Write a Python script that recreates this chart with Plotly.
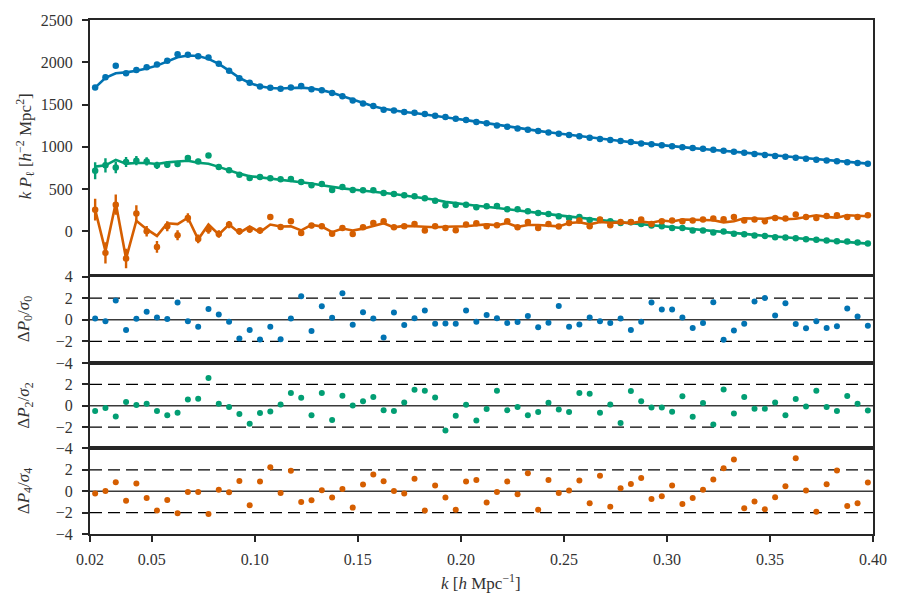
import plotly.graph_objects as go

# ---------------- data ----------------
k = [0.0225, 0.0275, 0.0325, 0.0375, 0.0425, 0.0475, 0.0525, 0.0575, 0.0625, 0.0675,
     0.0725, 0.0775, 0.0825, 0.0875, 0.0925, 0.0975, 0.1025, 0.1075, 0.1125, 0.1175,
     0.1225, 0.1275, 0.1325, 0.1375, 0.1425, 0.1475, 0.1525, 0.1575, 0.1625, 0.1675,
     0.1725, 0.1775, 0.1825, 0.1875, 0.1925, 0.1975, 0.2025, 0.2075, 0.2125, 0.2175,
     0.2225, 0.2275, 0.2325, 0.2375, 0.2425, 0.2475, 0.2525, 0.2575, 0.2625, 0.2675,
     0.2725, 0.2775, 0.2825, 0.2875, 0.2925, 0.2975, 0.3025, 0.3075, 0.3125, 0.3175,
     0.3225, 0.3275, 0.3325, 0.3375, 0.3425, 0.3475, 0.3525, 0.3575, 0.3625, 0.3675,
     0.3725, 0.3775, 0.3825, 0.3875, 0.3925, 0.3975]

# k*P0 measurements
kP0 = [1702, 1824, 1958, 1871, 1907, 1942, 1974, 2017, 2096, 2088,
       2072, 2057, 1982, 1899, 1812, 1757, 1714, 1698, 1686, 1702,
       1718, 1682, 1670, 1635, 1599, 1548, 1513, 1481, 1438, 1430,
       1410, 1403, 1387, 1367, 1351, 1332, 1316, 1292, 1277, 1253,
       1237, 1217, 1202, 1186, 1170, 1155, 1139, 1123, 1108, 1091,
       1079, 1067, 1056, 1040, 1030, 1018, 1006, 995, 985, 975,
       966, 953, 940, 928, 915, 902, 892, 881, 870, 858,
       847, 838, 828, 818, 809, 800]
kP0_err = [30, 28, 26, 25, 24, 23, 22, 21, 20, 19,
           18, 17, 17, 16, 16, 15, 15, 14, 14, 14,
           13, 13, 13, 12, 12, 12, 11, 11, 11, 11,
           10, 10, 10, 10, 10, 9, 9, 9, 9, 9,
           9, 8, 8, 8, 8, 8, 8, 8, 8, 7,
           7, 7, 7, 7, 7, 7, 7, 7, 7, 6,
           6, 6, 6, 6, 6, 6, 6, 6, 6, 6,
           6, 6, 6, 6, 6, 6]
kP0_model = [1700, 1815, 1870, 1880, 1900, 1925, 1960, 2010, 2060, 2080,
             2075, 2040, 1980, 1900, 1815, 1755, 1715, 1695, 1690, 1695,
             1700, 1690, 1670, 1640, 1600, 1555, 1515, 1480, 1450, 1430,
             1412, 1400, 1385, 1368, 1350, 1332, 1315, 1296, 1278, 1258,
             1240, 1222, 1205, 1188, 1172, 1156, 1140, 1125, 1110, 1095,
             1081, 1068, 1055, 1042, 1030, 1018, 1006, 995, 984, 974,
             963, 952, 940, 928, 916, 904, 893, 882, 871, 860,
             849, 839, 829, 819, 809, 800]

# k*P2 measurements
kP2 = [717, 780, 756, 819, 835, 827, 780, 788, 796, 866,
       827, 898, 760, 721, 670, 630, 642, 626, 615, 618,
       583, 544, 559, 488, 524, 488, 485, 485, 453, 441,
       426, 414, 390, 362, 307, 315, 315, 284, 296, 300,
       260, 260, 236, 217, 205, 177, 158, 169, 134, 134,
       118, 98, 106, 87, 67, 59, 39, 39, 8, 8,
       -16, -4, -28, -35, -51, -55, -71, -75, -83, -95,
       -99, -110, -118, -122, -134, -146]
kP2_err = [100, 85, 70, 59, 55, 48, 42, 38, 35, 32,
           30, 28, 27, 26, 25, 24, 23, 22, 21, 20,
           19, 19, 18, 18, 17, 17, 16, 16, 15, 15,
           15, 14, 14, 14, 13, 13, 13, 12, 12, 12,
           12, 11, 11, 11, 11, 10, 10, 10, 10, 10,
           10, 9, 9, 9, 9, 9, 9, 9, 8, 8,
           8, 8, 8, 8, 8, 8, 8, 8, 7, 7,
           7, 7, 7, 7, 7, 7]
kP2_model = [765, 780, 845, 800, 808, 808, 796, 815, 825, 835,
             810, 798, 762, 722, 682, 652, 638, 625, 612, 600,
             585, 565, 545, 525, 508, 494, 482, 468, 454, 440,
             424, 408, 390, 372, 348, 330, 316, 302, 290, 277,
             263, 248, 233, 218, 203, 188, 173, 158, 144, 131,
             118, 106, 94, 82, 70, 58, 46, 35, 23, 12,
             1, -10, -21, -32, -43, -53, -63, -73, -83, -92,
             -101, -110, -119, -128, -137, -146]

# k*P4 measurements
kP4 = [256, -256, 315, -323, 209, 0, -185, 59, -47, 158,
       -91, 20, -32, 79, 0, 20, 8, 169, 51, 118,
       -20, 67, 59, -28, 39, -32, 47, 98, 118, 47,
       59, 87, 8, 59, 39, 12, 79, 95, 59, 71,
       118, 47, 110, 39, 87, 55, 98, 126, 59, 138,
       71, 110, 110, 138, 87, 118, 126, 118, 126, 138,
       150, 142, 169, 126, 138, 118, 158, 150, 197, 169,
       158, 181, 189, 169, 169, 189]
kP4_err = [130, 125, 120, 115, 98, 62, 70, 60, 58, 55,
           52, 48, 45, 42, 40, 38, 36, 35, 33, 32,
           30, 30, 29, 28, 27, 26, 25, 25, 24, 24,
           24, 24, 23, 23, 23, 23, 22, 22, 22, 22,
           22, 21, 21, 21, 21, 21, 20, 20, 20, 20,
           19, 19, 19, 19, 19, 18, 18, 18, 18, 18,
           18, 17, 17, 17, 17, 17, 16, 16, 16, 16,
           16, 16, 15, 15, 15, 15]
kP4_model = [256, -236, 335, -323, 125, 25, -55, 95, 85, 160,
             -95, 80, -38, 80, -20, 55, -10, 80, 57, 60,
             10, 75, 56, -10, 32, 10, 31, 59, 95, 46,
             64, 59, 50, 47, 53, 52, 59, 72, 82, 72,
             98, 53, 74, 75, 65, 58, 97, 106, 82, 109,
             100, 105, 97, 114, 101, 127, 116, 139, 137, 136,
             130, 105, 119, 153, 154, 147, 167, 142, 148, 168,
             189, 170, 160, 190, 186, 177]

# normalised residuals
res0 = [0.12, -0.15, 1.77, -0.95, 0.09, 0.73, 0.21, 0.06, 1.59, -0.15,
        -0.64, 1.0, 0.49, -0.18, -1.74, -0.95, -1.83, -0.64, -1.8, 0.12,
        2.17, -1.04, 1.25, 0.18, 2.44, -0.46, 0.7, 0.12, -1.65, 0.67,
        -0.49, 0.15, 0.85, -0.37, -0.34, -0.37, 0.85, -0.18, 0.43, 0.15,
        -0.31, -0.21, 0.34, -0.7, -0.27, 1.28, -0.64, -0.43, 0.21, -0.15,
        -0.31, 0.12, -0.95, -0.18, 1.59, 0.95, 0.95, 0.21, -0.76, -0.31,
        1.62, -1.86, -1.0, -0.37, 1.68, 2.02, 0.4, 1.53, -0.4, -0.79,
        -0.15, -0.76, -0.61, 1.04, 0.31, -0.55]
res2 = [-0.5, -0.22, -1.0, 0.34, 0.06, 0.19, -0.5, -0.9, -0.66, 0.59,
        0.66, 2.6, 0.19, -0.12, -0.78, -1.69, -0.69, -0.53, 0.12, 1.19,
        0.75, -0.9, 1.19, -1.34, 0.94, 0.03, 0.41, 0.81, -0.41, -0.5,
        0.31, 1.5, 1.41, 0.78, -2.31, -0.94, 0.09, -1.38, -0.31, 1.41,
        -0.41, -0.12, -0.88, -0.59, 0.28, -0.34, -0.59, 1.19, 1.12, -0.66,
        0.12, -1.62, 1.38, 0.41, -0.16, -0.16, -0.56, 0.88, -1.03, 0.25,
        -1.75, 1.53, -0.72, 0.81, -0.28, -0.28, 0.31, -0.9, 0.63, -0.06,
        1.41, -0.12, -0.5, 0.91, 0.19, -0.44]
res4 = [-0.22, 0.03, 0.84, -0.88, 0.72, -0.63, -1.81, -0.81, -2.06, -0.06,
        -0.06, -2.13, 0.13, -0.09, 0.97, -1.31, 0.91, 2.25, -0.16, 1.91,
        -1.0, -0.84, 0.09, -0.59, 0.22, -1.53, 0.63, 1.56, 0.94, 0.03,
        -0.22, 1.16, -1.81, 0.53, -0.59, -1.72, 0.91, 1.06, -1.06, -0.06,
        0.91, -0.28, 1.69, -1.72, 1.06, -0.16, 0.06, 1.0, -1.13, 1.44,
        -1.44, 0.28, 0.69, 1.25, -0.72, -0.47, 0.53, -1.19, -0.63, 0.13,
        1.09, 2.16, 2.97, -1.59, -0.97, -1.69, -0.56, 0.47, 3.09, 0.06,
        -1.91, 0.66, 1.94, -1.38, -1.13, 0.81]

x_ticks = [0.02, 0.05, 0.10, 0.15, 0.20, 0.25, 0.30, 0.35, 0.40]
x_ticktext = ["0.02", "0.05", "0.10", "0.15", "0.20", "0.25", "0.30", "0.35", "0.40"]
top_ticks = [0, 500, 1000, 1500, 2000, 2500]

# ---------------- style ----------------
BLUE = "#0173B2"
GREEN = "#029E73"
ORANGE = "#D55E00"
AX = "#262626"
FONT = "Liberation Serif"
TXT = "#333333"

fig = go.Figure()

# top panel: model curves then data with error bars
for model, data, err, col in [(kP0_model, kP0, kP0_err, BLUE),
                              (kP2_model, kP2, kP2_err, GREEN),
                              (kP4_model, kP4, kP4_err, ORANGE)]:
    fig.add_trace(go.Scatter(x=k, y=model, mode="lines",
                             line=dict(color=col, width=2.6),
                             xaxis="x", yaxis="y", showlegend=False))
    fig.add_trace(go.Scatter(x=k, y=data, mode="markers",
                             marker=dict(color=col, size=6.5),
                             error_y=dict(type="data", array=err, color=col,
                                          thickness=2.4, width=0),
                             xaxis="x", yaxis="y", showlegend=False))

# residual panels
for res, col, ax in [(res0, BLUE, "2"), (res2, GREEN, "3"), (res4, ORANGE, "4")]:
    fig.add_trace(go.Scatter(x=k, y=res, mode="markers",
                             marker=dict(color=col, size=6),
                             xaxis="x" + ax, yaxis="y" + ax, showlegend=False))
    fig.add_shape(type="line", xref="x" + ax + " domain", yref="y" + ax,
                  x0=0, x1=1, y0=0, y1=0, line=dict(color="#3a3a3a", width=1.6),
                  layer="below")
    for lvl in (2, -2):
        fig.add_shape(type="line", xref="x" + ax + " domain", yref="y" + ax,
                      x0=0, x1=1, y0=lvl, y1=lvl,
                      line=dict(color="black", width=1.4, dash="12px,6px"),
                      layer="below")

H = 517.0
def dom(top_px, bot_px):
    return [(534 - bot_px) / H, (534 - top_px) / H]

base_x = dict(range=[0.02, 0.40], showline=True, linecolor=AX, linewidth=2,
              mirror=True, showgrid=False, zeroline=False)
base_y = dict(showline=True, linecolor=AX, linewidth=2, mirror=True,
              showgrid=False, zeroline=False, ticks="outside", ticklen=6,
              tickwidth=1.6, tickcolor=AX, ticklabelstandoff=6,
              tickfont=dict(family=FONT, size=16, color=TXT))

fig.update_layout(
    width=900, height=600,
    margin=dict(l=90, r=27, t=17, b=66),
    paper_bgcolor="white", plot_bgcolor="white",
    font=dict(family=FONT, size=16, color=TXT),
    xaxis=dict(base_x, domain=[0, 1], anchor="y", showticklabels=False, ticks=""),
    xaxis2=dict(base_x, domain=[0, 1], anchor="y2", showticklabels=False, ticks="", matches="x"),
    xaxis3=dict(base_x, domain=[0, 1], anchor="y3", showticklabels=False, ticks="", matches="x"),
    xaxis4=dict(base_x, domain=[0, 1], anchor="y4", matches="x",
                ticks="outside", ticklen=6, tickwidth=1.6, tickcolor=AX,
                tickvals=x_ticks, ticktext=x_ticktext, ticklabelstandoff=4,
                tickfont=dict(family=FONT, size=16, color=TXT)),
    yaxis=dict(base_y, domain=dom(17, 272), anchor="x", range=[-500, 2500],
               tickvals=top_ticks),
    yaxis2=dict(base_y, domain=dom(275, 362), anchor="x2", range=[-4, 4],
                tickvals=[-4, -2, 0, 2, 4]),
    yaxis3=dict(base_y, domain=dom(362, 448), anchor="x3", range=[-4, 4],
                tickvals=[-4, -2, 0, 2]),
    yaxis4=dict(base_y, domain=dom(448, 534), anchor="x4", range=[-4, 4],
                tickvals=[-4, -2, 0, 2]),
)

def ann(text, xpx, ypx, angle=-90):
    fig.add_annotation(text=text, xref="paper", yref="paper",
                       x=(xpx - 90) / 783.0, y=(534 - ypx) / H,
                       xanchor="center", yanchor="middle", showarrow=False,
                       textangle=angle,
                       font=dict(family=FONT, size=17, color=TXT))

ann("<i>k P</i><sub>ℓ</sub> [<i>h</i><sup>−2</sup> Mpc<sup>2</sup>]", 25, 144)
ann("Δ<i>P</i><sub>0</sub>/<i>σ</i><sub>0</sub>", 25, 318)
ann("Δ<i>P</i><sub>2</sub>/<i>σ</i><sub>2</sub>", 25, 405)
ann("Δ<i>P</i><sub>4</sub>/<i>σ</i><sub>4</sub>", 25, 491)
ann("<i>k</i> [<i>h</i> Mpc<sup>−1</sup>]", 481, 582, angle=0)

fig.write_html("out.html")
